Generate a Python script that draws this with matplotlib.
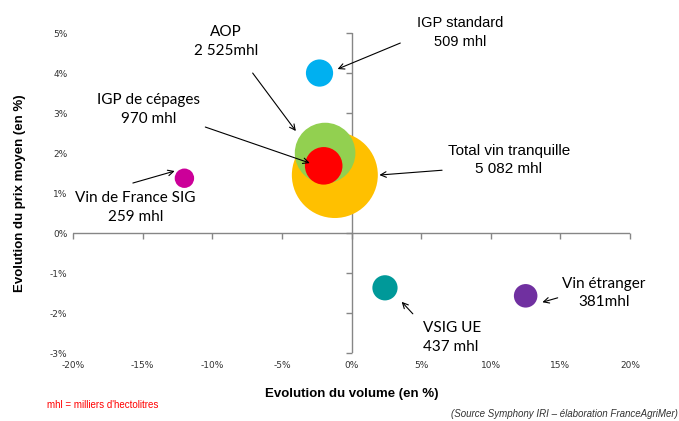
import matplotlib.pyplot as plt
import matplotlib.ticker as ticker

# données
categories = ['Total vin tranquille', 'AOP', 'IGP de cépages', 'IGP standard',
              'Vin de France SIG', 'VSIG UE', 'Vin étranger']
volumes_mhl = [5082, 2525, 970, 509, 259, 437, 381]
evol_volume = [-1.2, -1.9, -2.0, -2.3, -12.0, 2.4, 12.5]
evol_prix = [1.45, 2.0, 1.68, 4.0, 1.37, -1.37, -1.57]
couleurs = ['#FFC000', '#92D050', '#FF0000', '#00B0F0', '#CC0099', '#009999', '#7030A0']
etiquettes = ['Total vin tranquille\n5 082 mhl', 'AOP\n2 525mhl', 'IGP de cépages\n970 mhl',
              'IGP standard\n509 mhl', 'Vin de France SIG\n259 mhl', 'VSIG UE\n437 mhl',
              'Vin étranger\n381mhl']
x_ticks = [-20, -15, -10, -5, 0, 5, 10, 15, 20]
y_ticks = [-3, -2, -1, 0, 1, 2, 3, 4, 5]

#%% figure
fig = plt.figure(figsize=(6.79, 4.21), dpi=100)
ax = fig.add_axes([0.1075, 0.1615, 0.8205, 0.76])

for i in range(len(categories)):
    ax.scatter(evol_volume[i], evol_prix[i], s=volumes_mhl[i] * 0.754,
               color=couleurs[i], edgecolors='none', zorder=3)

ax.set_xlim(-20, 20)
ax.set_ylim(-3, 5)
for s in ax.spines.values():
    s.set_visible(False)
ax.set_xticks(x_ticks)
ax.set_yticks(y_ticks)
ax.xaxis.set_major_formatter(ticker.FuncFormatter(lambda v, p: f'{v:.0f}%'))
ax.yaxis.set_major_formatter(ticker.FuncFormatter(lambda v, p: f'{v:.0f}%'))
ax.tick_params(length=0, labelsize=6.5, colors='#333333', pad=4)
ax.tick_params(axis='x', pad=6)

# axes qui se croisent a zero (style Excel)
gris = '#868686'
ax.axhline(0, color=gris, lw=1, zorder=1)
ax.axvline(0, color=gris, lw=1, zorder=1)
ax.plot(x_ticks, [0] * len(x_ticks), ls='none', marker=3, ms=4, color=gris, mew=1, clip_on=False)
ax.plot([0] * len(y_ticks), y_ticks, ls='none', marker=0, ms=4, color=gris, mew=1, clip_on=False)

ax.set_xlabel('Evolution du volume (en %)', fontsize=9.5, fontweight='bold',
              family='Liberation Sans', labelpad=13)
ax.set_ylabel('Evolution du prix moyen (en %)', fontsize=9.5, fontweight='bold',
              family='Liberation Sans', labelpad=17)

# annotations (position du texte, point de la fleche)
fl = dict(arrowstyle='->', color='black', lw=0.8, shrinkA=0, shrinkB=0)
police = 'Lato'
ax.annotate('', xy=(2.0, 1.45), xytext=(6.5, 1.57), arrowprops=fl)
ax.text(11.3, 1.83, etiquettes[0], ha='center', va='center', fontsize=11,
        family='Liberation Sans', linespacing=1.4)
ax.annotate('', xy=(-4.0, 2.55), xytext=(-7.1, 4.0), arrowprops=fl)
ax.text(-9.0, 4.78, etiquettes[1], ha='center', va='center', fontsize=11,
        family=police, linespacing=1.45)
ax.annotate('', xy=(-3.0, 1.75), xytext=(-10.5, 2.65), arrowprops=fl)
ax.text(-14.6, 3.09, etiquettes[2], ha='center', va='center', fontsize=11,
        family=police, linespacing=1.45)
ax.annotate('', xy=(-1.0, 4.1), xytext=(3.5, 4.75), arrowprops=fl)
ax.text(7.8, 5.01, etiquettes[3], ha='center', va='center', fontsize=10.5,
        family='Liberation Sans', linespacing=1.45)
ax.annotate('', xy=(-12.7, 1.55), xytext=(-15.7, 1.25), arrowprops=fl)
ax.text(-15.5, 0.64, etiquettes[4], ha='center', va='center', fontsize=11,
        family=police, linespacing=1.45)
ax.annotate('', xy=(3.6, -1.72), xytext=(4.4, -2.02), arrowprops=fl)
ax.text(5.1, -2.61, etiquettes[5], ha='left', va='center', fontsize=11,
        family=police, linespacing=1.45)
ax.annotate('', xy=(13.7, -1.73), xytext=(14.8, -1.62), arrowprops=fl)
ax.text(18.1, -1.5, etiquettes[6], ha='center', va='center', fontsize=11,
        family=police, linespacing=1.45)

fig.text(0.069, 0.038, "mhl = milliers d'hectolitres", color='#FF0000', fontsize=7,
         family='Liberation Sans', va='center')
fig.text(0.999, 0.004, '(Source Symphony IRI – élaboration FranceAgriMer)', fontsize=7,
         style='italic', family='Liberation Sans', ha='right', va='bottom', color='#333333')

plt.savefig('out.png', dpi=100)
